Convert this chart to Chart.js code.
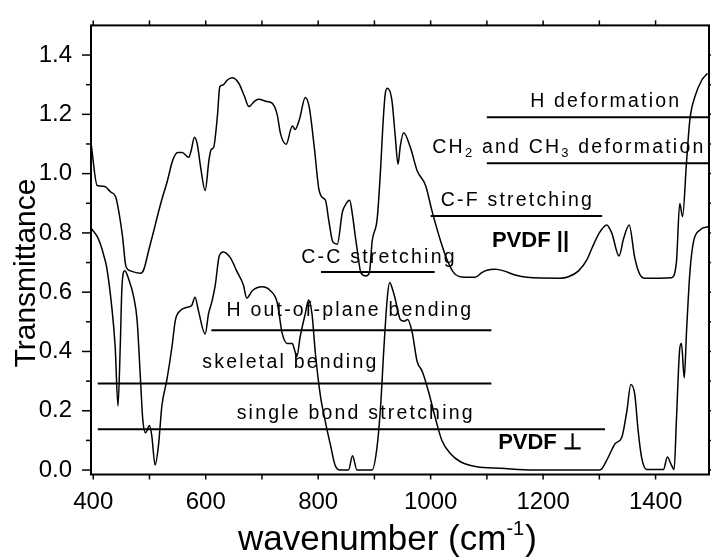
<!DOCTYPE html>
<html>
<head>
<meta charset="utf-8">
<script src="https://cdn.jsdelivr.net/npm/chart.js@4.4.1/dist/chart.umd.min.js"></script>
<style>
  html, body { margin: 0; padding: 0; background: #fff; }
  #wrap { width: 711px; height: 558px; }
</style>
</head>
<body>
<div id="wrap"><canvas id="myChart"></canvas></div>
<script>
// PVDF parallel spectrum (upper curve)
const wnPar = [396, 407, 419, 431, 440, 446, 452, 458, 466, 484, 490, 499, 508, 520, 532, 541, 550, 558, 570, 574,
  580, 585, 591, 599, 606, 610, 614, 621, 625, 631, 638, 647, 659, 668, 677, 686, 694, 709, 718, 727,
  733, 743, 754, 759, 767, 777, 784, 793, 801, 807, 813, 819, 826, 834, 843, 848, 856, 861, 866, 870,
  876, 885, 891, 896, 905, 911, 915, 919, 923, 931, 937, 942, 946, 952, 964, 976, 991, 1002, 1017, 1029,
  1041, 1056, 1079, 1091, 1100, 1115, 1130, 1150, 1171, 1230, 1245, 1263, 1278, 1287, 1300, 1313, 1322, 1335, 1343, 1353,
  1363, 1372, 1381, 1428, 1437, 1443, 1448, 1455, 1461, 1470, 1482, 1492];
const tPar = [1.105, 0.96, 0.957, 0.938, 0.921, 0.866, 0.789, 0.688, 0.672, 0.664, 0.677, 0.744, 0.81, 0.899, 0.977, 1.043, 1.071, 1.071, 1.055, 1.077,
  1.123, 1.099, 1.021, 0.943, 1.049, 1.082, 1.088, 1.199, 1.293, 1.299, 1.315, 1.323, 1.304, 1.265, 1.226, 1.243, 1.251, 1.243, 1.238, 1.2,
  1.135, 1.099, 1.161, 1.149, 1.185, 1.257, 1.225, 1.09, 0.95, 0.92, 0.91, 0.84, 0.77, 0.762, 0.87, 0.893, 0.91, 0.86, 0.788, 0.735,
  0.665, 0.655, 0.665, 0.772, 0.849, 1.016, 1.16, 1.265, 1.288, 1.249, 1.127, 1.032, 1.093, 1.138, 1.088, 1.01, 0.96, 0.877, 0.777, 0.71,
  0.666, 0.651, 0.65, 0.666, 0.674, 0.677, 0.672, 0.658, 0.65, 0.647, 0.652, 0.672, 0.71, 0.749, 0.8, 0.827, 0.8, 0.722, 0.78, 0.827,
  0.716, 0.66, 0.647, 0.649, 0.7, 0.899, 0.855, 1.038, 1.182, 1.26, 1.315, 1.338];

// PVDF perpendicular spectrum (lower curve)
const wnPerp = [396, 407, 415, 419, 424, 433, 439, 444, 448, 451, 456, 463, 472, 478, 484, 488, 493, 500, 504, 510,
  516, 522, 531, 540, 546, 555, 567, 575, 581, 587, 599, 605, 611, 617, 624, 631, 644, 655, 667, 673,
  683, 700, 715, 727, 736, 745, 754, 758, 762, 768, 777, 783, 789, 795, 804, 813, 822, 830, 839, 854,
  861, 869, 896, 905, 911, 917, 923, 927, 933, 937, 946, 953, 959, 967, 976, 985, 996, 1008, 1020, 1035,
  1053, 1082, 1124, 1183, 1301, 1316, 1328, 1340, 1349, 1356, 1363, 1369, 1375, 1384, 1414, 1421, 1427, 1433, 1437, 1443,
  1446, 1451, 1455, 1461, 1467, 1479, 1494];
const tPerp = [0.816, 0.788, 0.749, 0.722, 0.683, 0.549, 0.416, 0.216, 0.416, 0.616, 0.672, 0.644, 0.583, 0.505, 0.305, 0.172, 0.126, 0.15, 0.117, 0.017,
  0.083, 0.216, 0.305, 0.416, 0.505, 0.538, 0.549, 0.555, 0.583, 0.538, 0.459, 0.527, 0.568, 0.624, 0.722, 0.736, 0.716, 0.672, 0.624, 0.58,
  0.605, 0.618, 0.605, 0.566, 0.461, 0.427, 0.427, 0.405, 0.383, 0.45, 0.527, 0.574, 0.527, 0.394, 0.25, 0.161, 0.083, 0.017, 0.0, 0.0,
  0.048, 0.0, 0.0, 0.083, 0.216, 0.416, 0.583, 0.633, 0.605, 0.577, 0.508, 0.502, 0.508, 0.466, 0.366, 0.333, 0.266, 0.178, 0.1, 0.056,
  0.028, 0.011, 0.006, 0.0, 0.0, 0.044, 0.089, 0.111, 0.2, 0.289, 0.255, 0.133, 0.044, 0.002, 0.002, 0.044, 0.022, 0.002, 0.166, 0.41,
  0.427, 0.311, 0.466, 0.666, 0.766, 0.81, 0.821];

const xTicks = [400, 600, 800, 1000, 1200, 1400];
const yTicks = [0.0, 0.2, 0.4, 0.6, 0.8, 1.0, 1.2, 1.4];

// band assignment bars (wavenumber range, transmittance level) and their labels
const bandNames = ['H deformation', 'CH2 and CH3 deformation', 'C-F stretching', 'C-C stretching',
  'H out-of-plane bending', 'skeletal bending', 'single bond stretching'];
const bandFrom = [1100, 1100, 1000, 805, 610, 408, 408];
const bandTo = [1495, 1495, 1305, 1007, 1108, 1108, 1310];
const bandLevel = [1.19, 1.035, 0.857, 0.668, 0.472, 0.292, 0.1375];
const bandTextX = [1177, 1003, 1018, 770, 637, 594, 655];
const bandTextY = [1.242, 1.088, 0.91, 0.716, 0.538, 0.361, 0.191];

const seriesNames = ['PVDF ||', 'PVDF \u22A5'];
const seriesTextX = [1109, 1120];
const seriesTextY = [0.772, 0.091];

const FONT = "'Liberation Sans', Arial, sans-serif";

function line(ctx, x1, y1, x2, y2) {
  ctx.beginPath(); ctx.moveTo(x1, y1); ctx.lineTo(x2, y2); ctx.stroke();
}

const decorations = {
  id: 'decorations',
  afterDraw(chart) {
    const { ctx, chartArea: a, scales: { x, y } } = chart;
    ctx.save();
    ctx.strokeStyle = '#000';
    ctx.fillStyle = '#000';

    // frame
    ctx.lineWidth = 2;
    ctx.strokeRect(a.left, a.top, a.right - a.left, a.bottom - a.top);

    // ticks (all outward)
    ctx.lineWidth = 1.5;
    for (let v = 400; v <= 1400; v += 100) {
      const px = x.getPixelForValue(v);
      line(ctx, px, a.bottom, px, a.bottom + 5);
      line(ctx, px, a.top, px, a.top - 5);
    }
    for (let i = 0; i <= 14; i++) {
      const py = y.getPixelForValue(i / 10);
      const len = i % 2 === 0 ? 9 : 5;
      line(ctx, a.left - len, py, a.left, py);
      line(ctx, a.right, py, a.right + len, py);
    }

    // band bars
    ctx.lineWidth = 2;
    bandNames.forEach((n, i) => {
      const py = y.getPixelForValue(bandLevel[i]);
      line(ctx, x.getPixelForValue(bandFrom[i]), py, Math.min(x.getPixelForValue(bandTo[i]), a.right), py);
    });

    // band labels
    ctx.textBaseline = 'middle';
    ctx.textAlign = 'left';
    ctx.letterSpacing = '2.2px';
    ctx.font = '19.5px ' + FONT;
    bandNames.forEach((n, i) => {
      let px = x.getPixelForValue(bandTextX[i]);
      const py = y.getPixelForValue(bandTextY[i]);
      if (n.startsWith('CH2')) {
        const parts = [['CH', 0, 19.5], ['2', 6, 13], [' and CH', 0, 19.5], ['3', 6, 13], [' deformation', 0, 19.5]];
        parts.forEach(([s, dy, fs]) => {
          ctx.font = fs + 'px ' + FONT;
          ctx.fillText(s, px, py + dy);
          px += ctx.measureText(s).width;
        });
        ctx.font = '19.5px ' + FONT;
      } else {
        ctx.fillText(n, px, py);
      }
    });

    // series labels
    ctx.letterSpacing = '0px';
    ctx.font = 'bold 22px ' + FONT;
    seriesNames.forEach((n, i) => {
      ctx.fillText(n, x.getPixelForValue(seriesTextX[i]), y.getPixelForValue(seriesTextY[i]));
    });

    // axis titles
    ctx.save();
    ctx.translate(27, 273);
    ctx.rotate(-Math.PI / 2);
    ctx.textAlign = 'center';
    ctx.font = '30px ' + FONT;
    ctx.fillText('Transmittance', 0, 0);
    ctx.restore();

    ctx.textBaseline = 'alphabetic';
    ctx.textAlign = 'left';
    let tx = 238;
    ctx.font = '35px ' + FONT;
    ctx.fillText('wavenumber (cm', tx, 550);
    tx += ctx.measureText('wavenumber (cm').width;
    ctx.font = '20px ' + FONT;
    ctx.fillText('-1', tx, 535);
    tx += ctx.measureText('-1').width + 1;
    ctx.font = '35px ' + FONT;
    ctx.fillText(')', tx, 550);

    ctx.restore();
  }
};

const ctx = document.getElementById('myChart').getContext('2d');
const myChart = new Chart(ctx, {
  type: 'line',
  data: {
    datasets: [
      {
        label: seriesNames[0],
        data: wnPar.map((w, i) => ({ x: w, y: tPar[i] })),
        borderColor: '#000',
        borderWidth: 1.5,
        pointRadius: 0,
        cubicInterpolationMode: 'monotone',
        fill: false
      },
      {
        label: seriesNames[1],
        data: wnPerp.map((w, i) => ({ x: w, y: tPerp[i] })),
        borderColor: '#000',
        borderWidth: 1.5,
        pointRadius: 0,
        cubicInterpolationMode: 'monotone',
        fill: false
      }
    ]
  },
  options: {
    responsive: true,
    maintainAspectRatio: false,
    animation: false,
    devicePixelRatio: 1,
    layout: { padding: { top: 19, right: 2, left: 0, bottom: 0 } },
    plugins: { legend: { display: false }, tooltip: { enabled: false } },
    scales: {
      x: {
        type: 'linear',
        min: 396,
        max: 1495,
        grid: { display: false },
        border: { display: false },
        afterBuildTicks: s => { s.ticks = xTicks.map(v => ({ value: v })); },
        afterFit: s => { s.height = 83.5; },
        ticks: {
          color: '#000',
          padding: 5,
          maxRotation: 0,
          font: { family: FONT, size: 24 },
          callback: v => String(v)
        }
      },
      y: {
        min: -0.015,
        max: 1.5,
        grid: { display: false },
        border: { display: false },
        afterBuildTicks: s => { s.ticks = yTicks.map(v => ({ value: v })); },
        afterFit: s => { s.width = 91; },
        ticks: {
          color: '#000',
          padding: 11,
          font: { family: FONT, size: 24 },
          callback: v => v.toFixed(1)
        }
      }
    }
  },
  plugins: [decorations]
});
</script>
</body>
</html>
